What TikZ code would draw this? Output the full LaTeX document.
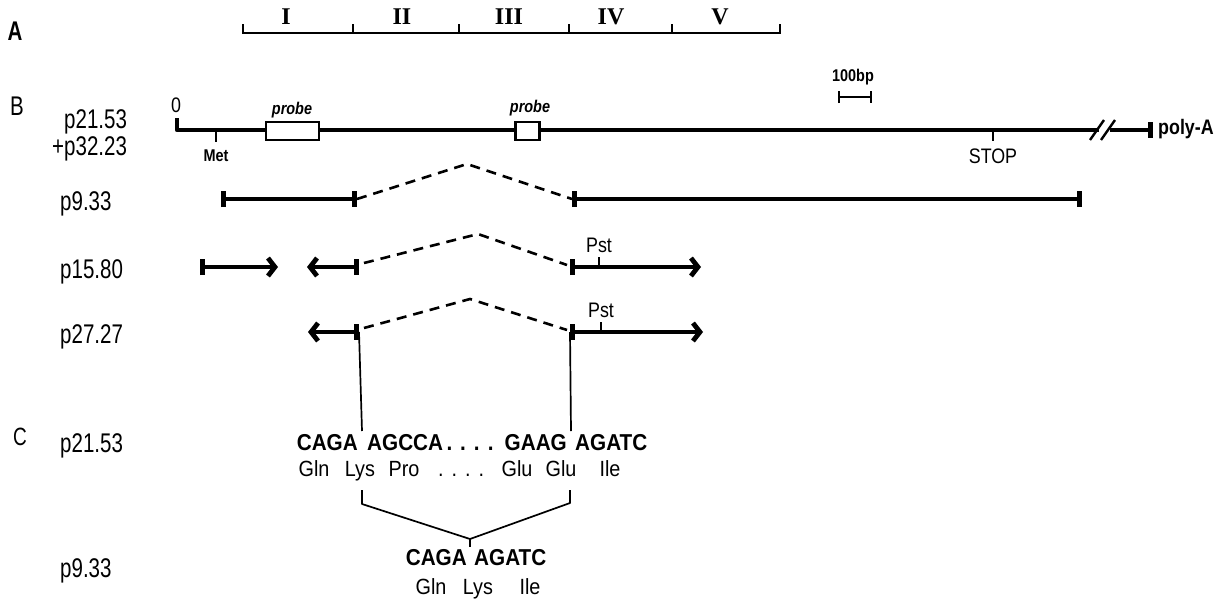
\documentclass[tikz,border=0pt]{standalone}
\usepackage{fontspec}
\setmainfont{Liberation Sans}[FakeStretch=0.85]
\newfontfamily\labfont{Liberation Sans}[FakeStretch=0.76]
\newfontfamily\seqfont{Liberation Sans}[FakeStretch=0.9]
\newfontfamily\romfont{Liberation Serif}
\usetikzlibrary{arrows.meta}
\tikzset{
  endtick/.tip={Bar[width=16pt]},
  barbtip/.tip={Straight Barb[length=7pt,width=18pt]},
  smalltick/.tip={Bar[width=12pt]},
}
\newcommand{\fourdots}{.\hspace{8pt}.\hspace{8pt}.\hspace{8pt}.}
\begin{document}
\begin{tikzpicture}[x=1pt,y=-1pt,
  thickline/.style={line width=4.8pt},
  thinline/.style={line width=1.7pt},
  dashline/.style={line width=2.6pt, dash pattern=on 10pt off 7pt},
  lbl/.style={font=\labfont\fontsize{27}{27}\selectfont, inner sep=0pt, anchor=base west},
  panel/.style={font=\labfont\fontsize{27}{27}\selectfont, inner sep=0pt},
  seq/.style={font=\seqfont\bfseries\fontsize{23}{23}\selectfont, inner sep=0pt},
  aa/.style={font=\seqfont\fontsize{22}{22}\selectfont, inner sep=0pt, anchor=base},
  small/.style={font=\bfseries\fontsize{17}{17}\selectfont, inner sep=0pt},
  smallr/.style={font=\fontsize{21}{21}\selectfont, inner sep=0pt},
  probelbl/.style={font=\bfseries\itshape\fontsize{17}{17}\selectfont, inner sep=0pt},
  roman/.style={font=\romfont\bfseries\fontsize{24}{24}\selectfont, inner sep=0pt},
  probebox/.style={draw, line width=2.2pt, fill=white, minimum height=18pt, inner sep=0pt},
]
\useasboundingbox (0,0) rectangle (1219,600);

% ---------- Panel A ----------
\node[panel, font=\labfont\bfseries\fontsize{27}{27}\selectfont] (A) at (15,31) {A};
\coordinate (a0) at (243,33); \coordinate (a1) at (353,33); \coordinate (a2) at (459,33);
\coordinate (a3) at (569,33); \coordinate (a4) at (672,33); \coordinate (a5) at (780,33);
\coordinate (a0t) at (243,24); \coordinate (a1t) at (353,24); \coordinate (a2t) at (459,24);
\coordinate (a3t) at (569,24); \coordinate (a4t) at (672,24); \coordinate (a5t) at (780,24);
\draw[line width=2.2pt] (a0t) -- (a0) -- (a5) -- (a5t);
\foreach \t in {a1,a2,a3,a4} \draw[line width=2.2pt] (\t) -- (\t t);
\node[roman] (rI) at (286,17) {I};
\node[roman] (rII) at (402,17) {II};
\node[roman] (rIII) at (509,17) {III};
\node[roman] (rIV) at (611,17) {IV};
\node[roman] (rV) at (720,17) {V};

% ---------- Panel B ----------
\node[panel] (B) at (17,106) {B};
\node[lbl] (l1) at (64,128) {p21.53};
\node[lbl] (l2) at (52,155) {+p32.23};
\node[smallr, font=\fontsize{21}{21}\selectfont] (zero) at (176,105) {0};

\coordinate (b0t) at (177,118);
\coordinate (b0) at (177,130);
\coordinate (bbr) at (1099,130);
\coordinate (b2) at (1110,130);
\coordinate (bend) at (1153,130);
\draw[thickline, line join=round] (b0t) -- (b0) -- (bbr);
\draw[thickline, -{endtick}] (b2) -- (bend);
\coordinate (s1a) at (1090,140); \coordinate (s1b) at (1104,120);
\coordinate (s2a) at (1101,140); \coordinate (s2b) at (1115,120);
\draw[line width=2.4pt] (s1a) -- (s1b);
\draw[line width=2.4pt] (s2a) -- (s2b);
\node[font=\bfseries\fontsize{21}{21}\selectfont, inner sep=0pt, anchor=west] (polyA) at (1158,129) {poly-A};

\node[probebox, minimum width=53pt] (p1) at (292.5,131) {};
\node[probebox, minimum width=24pt] (p2) at (527.5,131) {};
\node[probelbl] (pl1) at (292,110) {probe};
\node[probelbl] (pl2) at (530,108) {probe};

\coordinate (met) at (216,130); \coordinate (metb) at (216,142);
\draw[line width=2.4pt] (met) -- (metb);
\node[small] (metl) at (216,156) {Met};
\coordinate (stop) at (993,130); \coordinate (stopb) at (993,141);
\draw[line width=2.4pt] (stop) -- (stopb);
\node[smallr] (stopl) at (993,156) {STOP};

\node[small] (bp) at (853,77) {100bp};
\coordinate (bpa) at (838,97); \coordinate (bpb) at (872,97);
\draw[line width=2.2pt, {smalltick}-{smalltick}] (bpa) -- (bpb);

% p9.33
\node[lbl] (l3) at (60,210) {p9.33};
\coordinate (r1a) at (221,199); \coordinate (r1b) at (357,199);
\coordinate (r1p) at (467,164);
\coordinate (r1c) at (572,199); \coordinate (r1d) at (1082,199);
\draw[thickline, {endtick}-{endtick}] (r1a) -- (r1b);
\draw[dashline] (r1b) -- (r1p) -- (r1c);
\draw[thickline, {endtick}-{endtick}] (r1c) -- (r1d);

% p15.80
\node[lbl] (l4) at (60,278) {p15.80};
\coordinate (r2a) at (200,267); \coordinate (r2b) at (278,267);
\coordinate (r2c) at (359,267); \coordinate (r2d) at (307,267);
\coordinate (r2e) at (364,263); \coordinate (r2p) at (478,234); \coordinate (r2f) at (567,265);
\coordinate (r2g) at (570,267); \coordinate (r2h) at (701,267);
\coordinate (pst1) at (599,267); \coordinate (pst1t) at (599,257);
\draw[thickline, {endtick}-{barbtip}] (r2a) -- (r2b);
\draw[thickline, {endtick}-{barbtip}] (r2c) -- (r2d);
\draw[dashline] (r2e) -- (r2p) -- (r2f);
\draw[thickline, {endtick}-{barbtip}] (r2g) -- (r2h);
\draw[line width=2.4pt] (pst1) -- (pst1t);
\node[smallr] (pstl1) at (599,245) {Pst};

% p27.27
\node[lbl] (l5) at (60,343) {p27.27};
\coordinate (r3c) at (359,332); \coordinate (r3d) at (308,332);
\coordinate (r3e) at (364,328); \coordinate (r3p) at (470,299); \coordinate (r3f) at (567,330);
\coordinate (r3g) at (570,332); \coordinate (r3h) at (703,332);
\coordinate (pst2) at (601,332); \coordinate (pst2t) at (601,322);
\draw[thickline, {endtick}-{barbtip}] (r3c) -- (r3d);
\draw[dashline] (r3e) -- (r3p) -- (r3f);
\draw[thickline, {endtick}-{barbtip}] (r3g) -- (r3h);
\draw[line width=2.4pt] (pst2) -- (pst2t);
\node[smallr] (pstl2) at (601,310) {Pst};

% ---------- Panel C ----------
\node[panel, font=\labfont\fontsize{25}{25}\selectfont] (C) at (20,437) {C};
\node[lbl] (l6) at (60,452) {p21.53};
\node[lbl] (l7) at (60,577) {p9.33};

\node[seq, anchor=base east] (s1) at (358,450) {CAGA};
\node[seq, anchor=base west] (s2) at (367,450) {AGCCA};
\node[seq, anchor=base] (s3) at (470,450) {\fourdots};
\node[seq, anchor=base east] (s4) at (567,450) {GAAG};
\node[seq, anchor=base west] (s5) at (575,450) {AGATC};

\coordinate (v1b) at (362,431); \coordinate (v2b) at (571,431);
\draw[thinline] (r3c) -- (v1b);
\draw[thinline] (r3g) -- (v2b);

\node[aa] (g1) at (314,476) {Gln};
\node[aa] (g2) at (360,476) {Lys};
\node[aa] (g3) at (404,476) {Pro};
\node[aa] (g4) at (461,476) {\fourdots};
\node[aa] (g5) at (517,476) {Glu};
\node[aa] (g6) at (561,476) {Glu};
\node[aa] (g7) at (610,476) {Ile};

\coordinate (k1) at (362,490); \coordinate (k2) at (362,504);
\coordinate (k3) at (470,539); \coordinate (k4) at (570,503); \coordinate (k5) at (570,490);
\coordinate (k6) at (470,547);
\draw[thinline, line join=round] (k1) -- (k2) -- (k3) -- (k4) -- (k5);
\draw[thinline] (k3) -- (k6);

\node[seq, anchor=base east] (t1) at (467,565) {CAGA};
\node[seq, anchor=base west] (t2) at (474,565) {AGATC};
\node[aa] (h1) at (431,594) {Gln};
\node[aa] (h2) at (478,594) {Lys};
\node[aa] (h3) at (530,594) {Ile};
\end{tikzpicture}
\end{document}
